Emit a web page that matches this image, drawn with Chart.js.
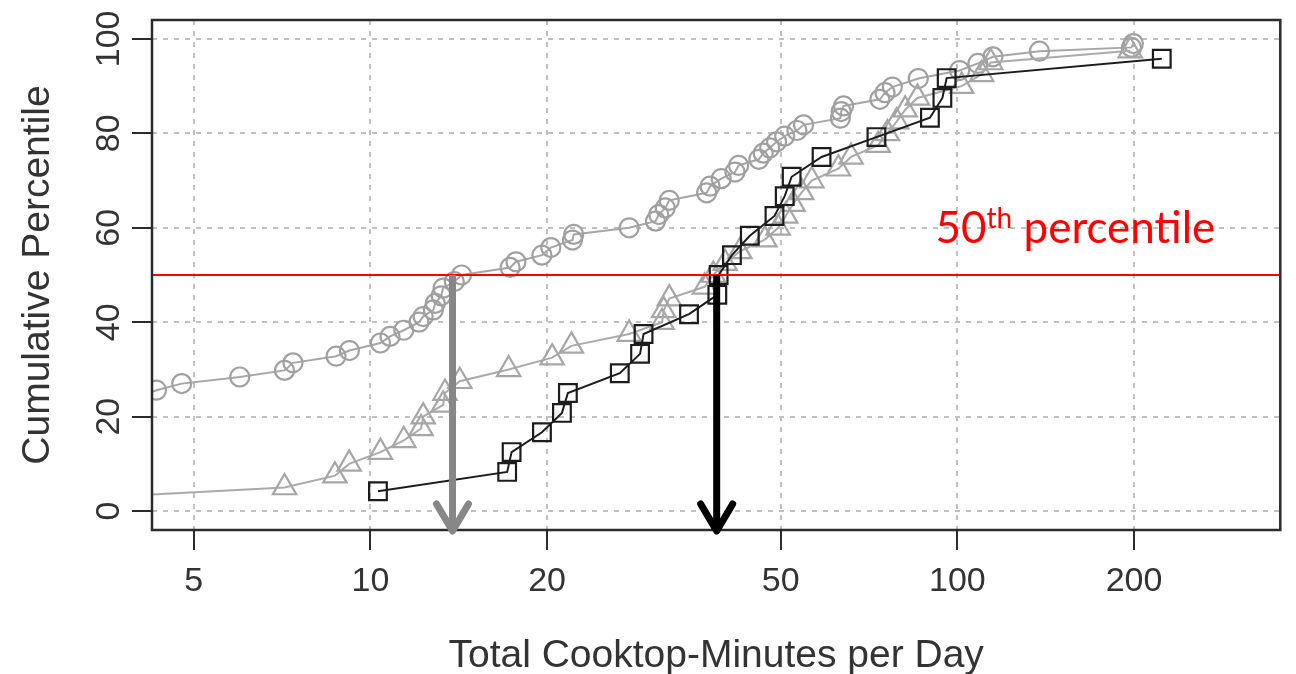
<!DOCTYPE html>
<html>
<head>
<meta charset="utf-8">
<script src="https://cdn.jsdelivr.net/npm/chart.js@4.4.1/dist/chart.umd.min.js"></script>
<style>
  html, body { margin: 0; padding: 0; background: #fff; }
</style>
</head>
<body>
<canvas id="cdf" width="1296" height="674"></canvas>
<script>
// Cumulative distribution of cooktop-minutes per day for three groups of homes

// circles (light grey)
const circleMinutes = [4.0, 4.32, 4.77, 5.99, 7.14, 7.38, 8.74, 9.21, 10.4, 10.8, 11.4, 12.1, 12.3, 12.8, 12.9, 13.2, 13.3, 13.9, 14.3,
  17.3, 17.7, 19.6, 20.3, 22.1, 22.2, 27.6, 30.6, 31.0, 31.8, 32.3, 37.4, 37.9, 39.6, 41.8, 42.4, 45.9, 46.7, 47.9, 49.2, 50.8,
  53.3, 54.7, 63.2, 63.4, 64.0, 73.8, 75.3, 77.5, 85.8, 100.9, 108.4, 115, 138, 198, 199.5];
const circlePct = [24.0, 25.6, 27.0, 28.4, 29.8, 31.4, 32.8, 34.0, 35.6, 37.0, 38.3, 40.0, 41.2, 42.6, 44.0, 45.6, 47.2, 48.6, 50.0,
  51.6, 52.8, 54.2, 55.8, 57.4, 58.6, 60.0, 61.4, 62.8, 64.2, 65.8, 67.4, 68.8, 70.4, 71.8, 73.2, 74.5, 75.8, 76.9, 78.2, 79.4,
  80.6, 81.8, 83.2, 84.6, 85.8, 87.2, 88.6, 89.8, 91.6, 93.3, 94.8, 96.2, 97.4, 98.2, 99.0];

// triangles (grey)
const triangleMinutes = [3.0, 7.14, 8.7, 9.2, 10.4, 11.4, 12.2, 12.3, 13.3, 13.4, 14.2, 17.2, 20.4, 22.0, 27.6, 31.4, 31.6, 32.3,
  37.1, 38.4, 40.2, 42.6, 47.0, 49.5, 51.0, 52.5, 54.3, 56.5, 62.7, 65.9, 73.3, 76.0, 78.8, 81.5, 85.5, 101.7, 110, 114, 197];
const trianglePct = [2.5, 5, 7.5, 10, 12.5, 15, 17.5, 20, 22.5, 25, 27.5, 30, 32.5, 35, 37.5, 40, 42.5, 45, 47.5, 50,
  52.5, 55, 57.5, 60, 62.5, 65, 67.5, 70, 72.5, 75, 77.5, 80, 82.5, 85, 87.5, 90, 92.5, 95, 97.5];

// squares (black)
const squareMinutes = [10.3, 17.1, 17.4, 19.6, 21.2, 21.7, 26.6, 28.8, 29.2, 34.9, 39.0, 39.2, 41.3, 44.3, 48.8, 50.8, 52.2,
  58.7, 72.8, 89.8, 94.3, 95.9, 223];
const squarePct = [4.2, 8.3, 12.5, 16.7, 20.8, 25.0, 29.2, 33.3, 37.5, 41.7, 45.8, 50.0, 54.2, 58.3, 62.5, 66.7, 70.8,
  75.0, 79.2, 83.3, 87.5, 91.7, 95.8];

// medians marked with arrows
const medianLevel = 50;
const greyMedian = 13.8;
const blackMedian = 38.9;

const xTicks = [5, 10, 20, 50, 100, 200];
const yTicks = [0, 20, 40, 60, 80, 100];

const toPoints = (xs, ys) => xs.map((v, i) => ({ x: v, y: ys[i] }));

const axisFont = { family: "'Liberation Sans', Arial, sans-serif", size: 34 };
const titleFont = { family: "'Liberation Sans', Arial, sans-serif", size: 39, lineHeight: 1 };

function drawArrow(ctx, x, yTop, yTip, color) {
  ctx.strokeStyle = color;
  ctx.lineWidth = 7;
  ctx.lineCap = 'butt';
  ctx.beginPath();
  ctx.moveTo(x, yTop);
  ctx.lineTo(x, yTip - 3);
  ctx.stroke();
  ctx.lineCap = 'round';
  ctx.lineJoin = 'round';
  ctx.beginPath();
  ctx.moveTo(x - 16, yTip - 27);
  ctx.lineTo(x, yTip);
  ctx.lineTo(x + 16, yTip - 27);
  ctx.stroke();
}

const overlay = {
  id: 'overlay',
  afterDatasetsDraw(chart) {
    const { ctx, chartArea: a, scales: { x, y } } = chart;
    ctx.save();

    // plot frame
    ctx.strokeStyle = '#2b2b2b';
    ctx.lineWidth = 2.5;
    ctx.strokeRect(a.left, a.top, a.right - a.left, a.bottom - a.top);

    // 50th percentile line
    const y50 = y.getPixelForValue(medianLevel);
    ctx.strokeStyle = '#ff0000';
    ctx.lineWidth = 2;
    ctx.beginPath();
    ctx.moveTo(a.left + 1, y50);
    ctx.lineTo(a.right - 1, y50);
    ctx.stroke();

    drawArrow(ctx, x.getPixelForValue(greyMedian), y50, a.bottom + 1, '#878787');
    drawArrow(ctx, x.getPixelForValue(blackMedian), y50, a.bottom + 1, '#000000');

    // label: 50th percentile
    ctx.fillStyle = '#ff0000';
    ctx.textBaseline = 'alphabetic';
    const big = "44px Lato, 'Open Sans', sans-serif";
    const small = "28px Lato, 'Open Sans', sans-serif";
    ctx.font = big;
    const w1 = ctx.measureText('50').width;
    const w3 = ctx.measureText(' percentile').width;
    ctx.font = small;
    const w2 = ctx.measureText('th').width;
    let tx = a.right - 65 - (w1 + w2 + w3);
    const ty = y50 - 32;
    ctx.font = big;
    ctx.fillText('50', tx, ty);
    tx += w1;
    ctx.font = small;
    ctx.fillText('th', tx, ty - 15);
    tx += w2;
    ctx.font = big;
    ctx.fillText(' percentile', tx, ty);

    ctx.restore();
  }
};

const gridStyle = {
  color: '#c0c0c0',
  lineWidth: 2,
  tickLength: 20,
  tickColor: '#2b2b2b',
  tickWidth: 2,
  tickBorderDash: []
};

new Chart(document.getElementById('cdf'), {
  type: 'scatter',
  data: {
    datasets: [
      {
        data: toPoints(squareMinutes, squarePct),
        showLine: true,
        borderColor: '#1c1c1c',
        borderWidth: 2,
        pointStyle: 'rect',
        pointRadius: 12.5,
        pointBorderWidth: 2.2,
        pointBorderColor: '#1c1c1c',
        pointBackgroundColor: 'rgba(0,0,0,0)'
      },
      {
        data: toPoints(triangleMinutes, trianglePct),
        showLine: true,
        borderColor: '#aaaaaa',
        borderWidth: 2,
        pointStyle: 'triangle',
        pointRadius: 13.5,
        pointBorderWidth: 2.2,
        pointBorderColor: '#a6a6a6',
        pointBackgroundColor: 'rgba(0,0,0,0)'
      },
      {
        data: toPoints(circleMinutes, circlePct),
        showLine: true,
        borderColor: '#a6a6a6',
        borderWidth: 2,
        pointStyle: 'circle',
        pointRadius: 9.5,
        pointBorderWidth: 2.2,
        pointBorderColor: '#a0a0a0',
        pointBackgroundColor: 'rgba(0,0,0,0)'
      }
    ]
  },
  options: {
    responsive: false,
    animation: false,
    devicePixelRatio: 1,
    layout: { padding: { top: 20, right: 13, bottom: 0, left: 0 } },
    plugins: { legend: { display: false }, tooltip: { enabled: false } },
    elements: { line: { tension: 0 } },
    scales: {
      x: {
        type: 'logarithmic',
        min: 4.245,
        max: 355,
        afterBuildTicks: s => { s.ticks = xTicks.map(v => ({ value: v })); },
        afterFit: s => { s.height = 144; },
        ticks: {
          autoSkip: false,
          maxRotation: 0,
          padding: 11,
          color: '#333',
          font: axisFont,
          callback: v => String(v)
        },
        grid: gridStyle,
        border: { display: false, dash: [5, 6] },
        title: {
          display: true,
          text: 'Total Cooktop-Minutes per Day',
          color: '#333',
          font: titleFont,
          padding: { top: 0, bottom: -2 }
        }
      },
      y: {
        min: -4,
        max: 104,
        afterBuildTicks: s => { s.ticks = yTicks.map(v => ({ value: v })); },
        afterFit: s => { s.width = 152; },
        ticks: {
          autoSkip: false,
          minRotation: 90,
          maxRotation: 90,
          crossAlign: 'center',
          padding: -6,
          color: '#333',
          font: axisFont
        },
        grid: gridStyle,
        border: { display: false, dash: [5, 6] },
        title: {
          display: true,
          text: 'Cumulative Percentile',
          color: '#333',
          font: titleFont,
          padding: { top: 19, bottom: 0 }
        }
      }
    }
  },
  plugins: [overlay]
});
</script>
</body>
</html>
